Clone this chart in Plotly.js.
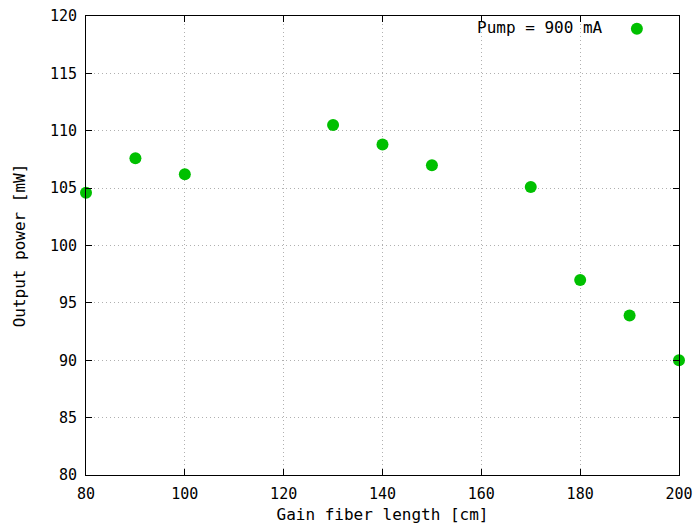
<!DOCTYPE html>
<html>
<head>
<meta charset="utf-8">
<script src="https://cdn.plot.ly/plotly-3.0.1.min.js"></script>
<style>html,body{margin:0;padding:0;background:#fff;}#chart{width:699px;height:524px;}</style>
</head>
<body>
<div id="chart"></div>
<script>
var lengthCm = [80, 90, 100, 130, 140, 150, 170, 180, 190, 200];
var powerMw = [104.6, 107.6, 106.2, 110.5, 108.8, 107.0, 105.1, 97.0, 93.9, 90.0];
var seriesName = "Pump = 900 mA";
var xTicks = [80, 100, 120, 140, 160, 180, 200];
var yTicks = [80, 85, 90, 95, 100, 105, 110, 115, 120];

var tickFont = {family: "DejaVu Sans Mono, monospace", size: 15, color: "#000"};
var textFont = {family: "DejaVu Sans Mono, monospace", size: 16, color: "#000"};

var trace = {
  x: lengthCm, y: powerMw, type: "scatter", mode: "markers",
  name: " ",
  marker: {color: "#00c000", size: 12, symbol: "circle"},
  cliponaxis: false,
  showlegend: true
};

var axisCommon = {
  showline: true, linecolor: "#000", linewidth: 1, mirror: "ticks",
  ticks: "inside", ticklen: 6, tickcolor: "#000", tickwidth: 1,
  showgrid: true, gridcolor: "#b0b0b0", griddash: "1px,3px", gridwidth: 1,
  zeroline: false, tickfont: tickFont, tickmode: "array"
};

var layout = {
  width: 699, height: 524,
  margin: {l: 86, r: 20, t: 16, b: 49},
  paper_bgcolor: "#fff", plot_bgcolor: "#fff",
  font: textFont,
  xaxis: Object.assign({}, axisCommon, {
    range: [80, 200], tickvals: xTicks, ticktext: xTicks.map(String),
    ticklabelstandoff: 5,
    title: {text: "Gain fiber length [cm]", font: textFont, standoff: 15}
  }),
  yaxis: Object.assign({}, axisCommon, {
    range: [80, 120], tickvals: yTicks, ticktext: yTicks.map(String),
    ticklabelstandoff: 5,
    title: {text: "Output power [mW]", font: textFont, standoff: 20}
  }),
  showlegend: true,
  legend: {x: 0.988, y: 1.009, xanchor: "right", yanchor: "top", bgcolor: "rgba(0,0,0,0)", font: textFont, itemwidth: 30},
  annotations: [{
    xref: "paper", yref: "paper", x: 0.876, y: 0.974, xanchor: "right", yanchor: "middle",
    text: seriesName, showarrow: false, font: textFont
  }]
};

Plotly.newPlot("chart", [trace], layout, {displayModeBar: false, staticPlot: true});
</script>
</body>
</html>
